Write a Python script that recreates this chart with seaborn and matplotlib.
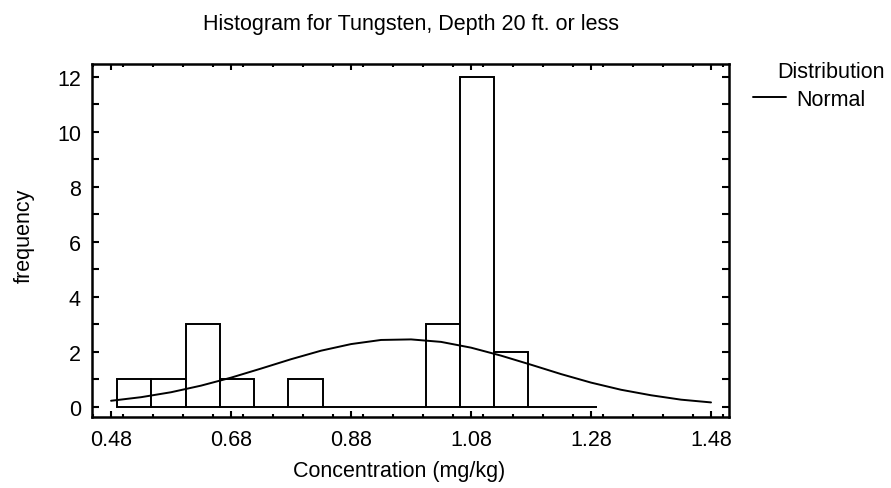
import matplotlib
matplotlib.use("Agg")
import matplotlib.pyplot as plt
import numpy as np
import pandas as pd
import seaborn as sns
from matplotlib.ticker import MultipleLocator, FixedLocator

# histogram counts (14 equal classes from 0.49 to 1.29)
bin_lo = 0.49
bin_hi = 1.29
counts = [1, 1, 3, 1, 0, 1, 0, 0, 0, 3, 12, 2, 0, 0]

# fitted normal curve
curve_x = [0.48, 0.53, 0.58, 0.63, 0.68, 0.73, 0.78, 0.83, 0.88, 0.93, 0.98,
           1.03, 1.08, 1.13, 1.18, 1.23, 1.28, 1.33, 1.38, 1.43, 1.48]
curve_y = [0.22, 0.35, 0.53, 0.77, 1.06, 1.39, 1.73, 2.04, 2.28, 2.43, 2.45,
           2.36, 2.15, 1.86, 1.53, 1.19, 0.88, 0.62, 0.42, 0.26, 0.16]

x_ticks = [0.48, 0.68, 0.88, 1.08, 1.28, 1.48]

FS = 15.5

sns.set_theme(style="ticks", rc={"text.color": "black", "axes.labelcolor": "black",
                                 "xtick.color": "black", "ytick.color": "black"})
plt.rcParams['font.family'] = ['Liberation Sans', 'DejaVu Sans']

edges = np.linspace(bin_lo, bin_hi, len(counts) + 1)
hist_df = pd.DataFrame({"conc": (edges[:-1] + edges[1:]) / 2, "n": counts})

fig = plt.figure(figsize=(8.91, 4.89), dpi=100)
ax = fig.add_axes([0.1033, 0.1452, 0.7149, 0.7219])

sns.histplot(data=hist_df, x="conc", weights="n", bins=list(edges), ax=ax,
             color="white", edgecolor="black", linewidth=1.4, alpha=1)
sns.lineplot(x=curve_x, y=curve_y, ax=ax, color="black", linewidth=1.4,
             label="Normal")

ax.set_xlim(0.4483, 1.51)
ax.set_ylim(-0.37, 12.46)
ax.xaxis.set_major_locator(FixedLocator(x_ticks))
ax.xaxis.set_minor_locator(MultipleLocator(0.05))
ax.yaxis.set_major_locator(MultipleLocator(2))
ax.yaxis.set_minor_locator(MultipleLocator(1))
ax.set_xticklabels([f"{v:.2f}" for v in x_ticks])

ax.tick_params(which="both", direction="in", top=True, right=True,
               labelsize=FS, width=1.5, color="black", labelcolor="black")
ax.tick_params(axis="x", which="major", length=4, pad=9)
ax.tick_params(axis="x", which="minor", length=2)
ax.tick_params(axis="y", which="both", length=5, pad=8)
for s in ax.spines.values():
    s.set_linewidth(1.8)
    s.set_color("black")

ax.set_xlabel("Concentration (mg/kg)", fontsize=FS, labelpad=7)
ax.xaxis.label.set_x(0.482)
ax.set_ylabel("frequency", fontsize=FS, labelpad=16)
ax.yaxis.label.set_y(0.515)
ax.set_title("Histogram for Tungsten, Depth 20 ft. or less", fontsize=FS,
             pad=25, color="black")

leg = ax.legend(loc="center left", bbox_to_anchor=(1.0377, 0.9008),
                frameon=False, fontsize=FS, handlelength=1.55,
                handletextpad=0.45, borderaxespad=0, borderpad=0,
                labelcolor="black")
fig.text(885 / 891, 1 - 73 / 489, "Distribution", fontsize=FS, ha="right",
         va="center", color="black")

fig.savefig("out.png", dpi=100)
